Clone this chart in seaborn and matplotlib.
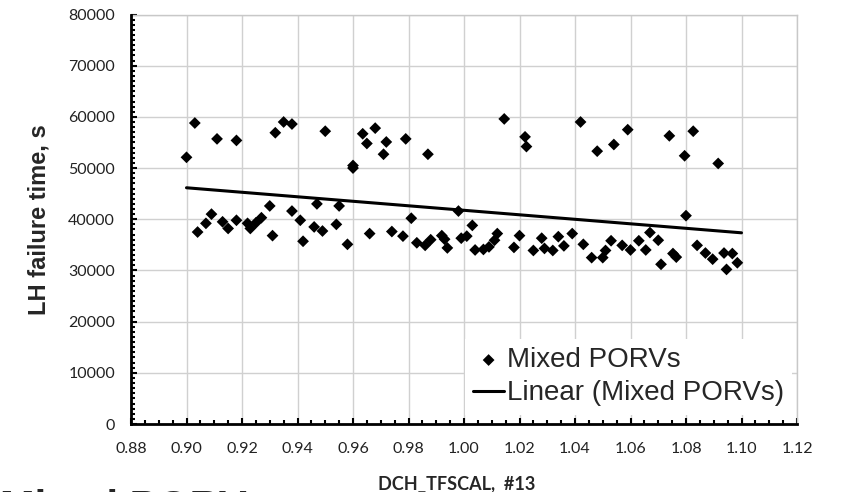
import numpy as np
import pandas as pd
import matplotlib
matplotlib.use('Agg')
import matplotlib.pyplot as plt
import seaborn as sns
from matplotlib.ticker import MultipleLocator, FixedLocator

# DCH_TFSCAL sample values and LH failure times (s)
tfscal = [0.900, 0.903, 0.904, 0.907, 0.909, 0.911, 0.913, 0.915, 0.918, 0.918,
          0.922, 0.923, 0.925, 0.927, 0.930, 0.931, 0.932, 0.935, 0.938, 0.938,
          0.941, 0.942, 0.946, 0.947, 0.949, 0.950, 0.954, 0.955, 0.958, 0.960,
          0.960, 0.9635, 0.965, 0.966, 0.968, 0.971, 0.972, 0.974, 0.978, 0.979,
          0.981, 0.983, 0.986, 0.987, 0.988, 0.992, 0.993, 0.994, 0.998, 0.999,
          1.001, 1.003, 1.004, 1.007, 1.009, 1.011, 1.012, 1.0145, 1.018, 1.020,
          1.022, 1.0225, 1.025, 1.028, 1.029, 1.032, 1.034, 1.036, 1.039, 1.042,
          1.043, 1.046, 1.048, 1.050, 1.051, 1.053, 1.054, 1.057, 1.059, 1.060,
          1.063, 1.0655, 1.067, 1.070, 1.071, 1.074, 1.0753, 1.0765, 1.0795, 1.080,
          1.0826, 1.084, 1.087, 1.0896, 1.0916, 1.0937, 1.0946, 1.0967, 1.0985]
fail_time = [52100, 58800, 37500, 39200, 41000, 55700, 39500, 38200, 55400, 39800,
             39200, 38200, 39300, 40300, 42600, 36800, 56900, 59000, 58600, 41600,
             39800, 35700, 38500, 43000, 37700, 57200, 39000, 42600, 35100, 50500,
             50000, 56700, 54800, 37200, 57800, 52700, 55100, 37600, 36700, 55700,
             40200, 35400, 34900, 52700, 36000, 36800, 36100, 34400, 41600, 36300,
             36700, 38800, 34000, 34100, 34600, 35900, 37200, 59600, 34500, 36800,
             56100, 54200, 33900, 36300, 34300, 33900, 36600, 34800, 37200, 59000,
             35100, 32500, 53300, 32500, 33900, 35800, 54600, 34900, 57500, 34000,
             35800, 34000, 37400, 35900, 31200, 56300, 33300, 32600, 52400, 40700,
             57200, 34900, 33400, 32200, 50900, 33400, 30200, 33300, 31500]

# Excel linear trendline end points
trend_x = [0.90, 1.10]
trend_y = [46150, 37350]

x_ticks = [0.88, 0.90, 0.92, 0.94, 0.96, 0.98, 1.00, 1.02, 1.04, 1.06, 1.08, 1.10, 1.12]
y_ticks = [0, 10000, 20000, 30000, 40000, 50000, 60000, 70000, 80000]

df = pd.DataFrame({'x': tfscal, 'y': fail_time})
trend = pd.DataFrame({'x': trend_x, 'y': trend_y})

sns.set_style('white')
plt.rcParams['font.family'] = ['Lato', 'DejaVu Sans']

fig = plt.figure(figsize=(8.5, 4.92), dpi=100)
ax = fig.add_axes([131 / 850, 1 - 424 / 492, 666 / 850, 409.5 / 492])

sns.scatterplot(data=df, x='x', y='y', marker='D', s=36, color='black',
                edgecolor='none', label='Mixed PORVs', ax=ax, zorder=3)
sns.lineplot(data=trend, x='x', y='y', color='black', linewidth=2.2,
             label='Linear (Mixed PORVs)', ax=ax, zorder=4)

ax.set_xlim(0.88, 1.12)
ax.set_ylim(0, 80000)
ax.xaxis.set_major_locator(FixedLocator(x_ticks))
ax.set_xticklabels([f'{t:.2f}' for t in x_ticks])
ax.yaxis.set_major_locator(FixedLocator(y_ticks))
ax.set_yticklabels([str(t) for t in y_ticks])
ax.xaxis.set_minor_locator(MultipleLocator(0.005))
ax.yaxis.set_minor_locator(MultipleLocator(1000))

ax.grid(True, which='major', color='#d0d0d0', linewidth=1)
ax.set_axisbelow(True)
for side in ['top', 'right']:
    ax.spines[side].set_color('#c8c8c8')
    ax.spines[side].set_linewidth(1)
for side in ['left', 'bottom']:
    ax.spines[side].set_color('black')
    ax.spines[side].set_linewidth(2)
    ax.spines[side].set_zorder(5)

ax.tick_params(which='major', direction='in', length=4, width=1.5, colors='black',
               labelsize=11.5, labelcolor='#222222')
ax.tick_params(which='minor', direction='in', length=3, width=1.5, colors='black')
ax.tick_params(axis='y', which='both', pad=11.5)
ax.tick_params(axis='x', which='both', pad=13)
ax.tick_params(which='both', top=False, right=False, bottom=True, left=True)

ax.set_xlabel('DCH_TFSCAL,  #13', fontsize=13, fontweight='bold')
ax.xaxis.set_label_coords((457 - 131) / 666, (424 - 476) / 409.5)
ax.set_ylabel('LH failure time, s', fontsize=17, fontweight='bold',
              family=['Liberation Sans', 'DejaVu Sans'])
ax.yaxis.set_label_coords((51 - 131) / 666, 0.5)

leg = ax.legend(loc='upper left', bbox_to_anchor=((465 - 131) / 666, (424 - 339) / 409.5),
                borderaxespad=0, borderpad=0.3, frameon=True, framealpha=1,
                facecolor='white', edgecolor='none', fancybox=False,
                prop={'family': 'Liberation Sans', 'size': 20},
                handlelength=1.1, handletextpad=0.1, labelspacing=0.25,
                markerscale=1.0)
leg.set_zorder(6)

fig.text(0.0, -28 / 492, 'Mixed PORV', fontsize=30, fontweight='bold',
         family=['Liberation Sans', 'DejaVu Sans'], ha='left', va='baseline')

fig.savefig('out.png', dpi=100)
